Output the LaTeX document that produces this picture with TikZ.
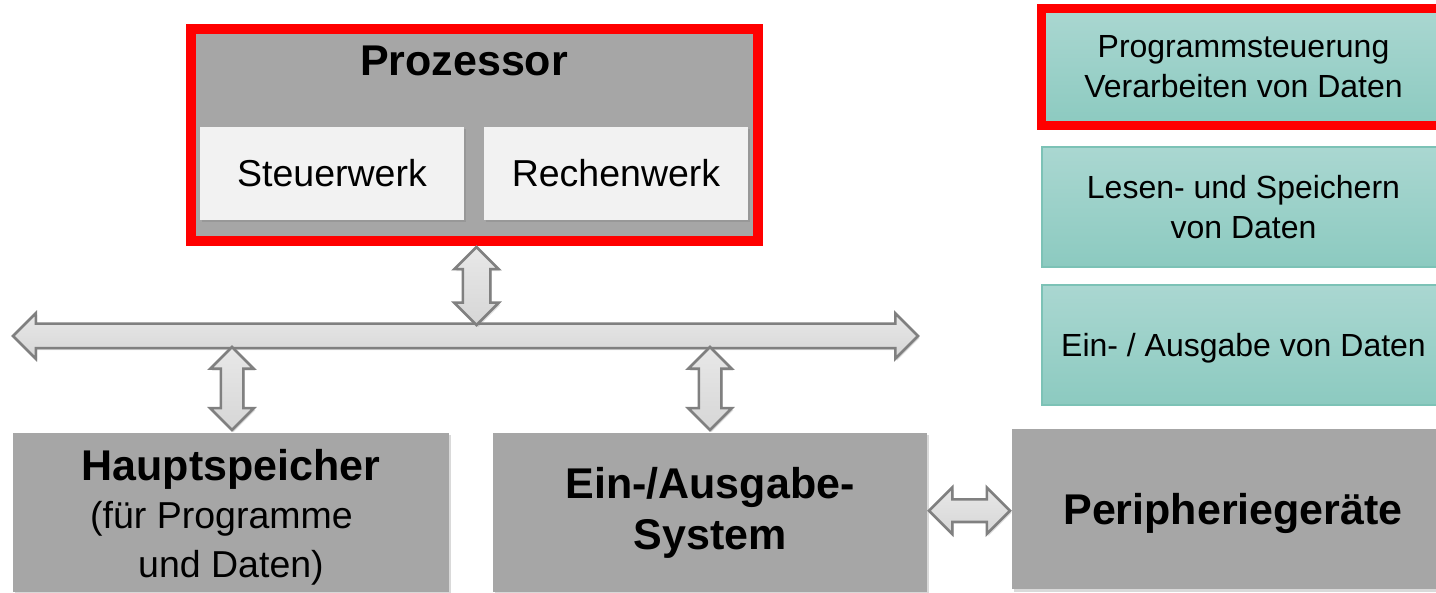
\documentclass[tikz,border=0pt]{standalone}
\usepackage{fontspec}
\setmainfont{Liberation Sans}
\usetikzlibrary{
  arrows.meta,
  calc,
  positioning,
  shapes.arrows,
  shadows,
}
\definecolor{blockgray}{HTML}{A6A6A6}
\definecolor{werkgray}{HTML}{F2F2F2}
\definecolor{tealtop}{HTML}{AAD7D1}
\definecolor{tealbot}{HTML}{8CCAC0}
\definecolor{tealline}{HTML}{7CC2B6}
\definecolor{busline}{HTML}{808080}
\tikzset{
  x=1pt,
  y=-1pt,
  block/.style={
    fill=blockgray, inner sep=0pt, outer sep=0pt, align=center,
    font=\bfseries\fontsize{43}{51}\selectfont,
    drop shadow={opacity=.3, shadow xshift=2pt, shadow yshift=-2.5pt},
  },
  werk/.style={
    fill=werkgray, minimum width=264pt, minimum height=93pt,
    inner sep=0pt, outer sep=0pt, font=\fontsize{37.5}{45}\selectfont,
    drop shadow={opacity=.35, shadow xshift=2pt, shadow yshift=-2.5pt},
  },
  aufgabe/.style={
    top color=tealtop, bottom color=tealbot, draw=tealline, line width=1.5pt,
    minimum width=403pt, minimum height=120pt, inner sep=0pt, outer sep=0pt,
    align=center, font=\fontsize{32}{40}\selectfont,
  },
  rahmen/.style={draw=red, line width=10pt},
  titel/.style={font=\bfseries\fontsize{43}{48}\selectfont, inner sep=0pt},
  busarrow/.style={
    double arrow, draw=busline, line width=2.5pt,
    top color=gray!18, bottom color=gray!32, outer sep=0pt,
    drop shadow={opacity=.25, shadow xshift=1.5pt, shadow yshift=-2pt},
  },
}

\begin{document}
\begin{tikzpicture}
  \clip (0,0) rectangle (1436,593);
  % Prozessor
  \node[block, rahmen, minimum width=567pt, minimum height=212pt](Proz) at (474.5,135){};
  \node[titel, anchor=base](ProzT) at ($(Proz.north)+(-10.5,47)$){Prozessor};
  \node[werk](SW) at (332,173.5){Steuerwerk};
  \node[werk, right=20pt of SW](RW){Rechenwerk};
  % Bus
  \node[busarrow, inner sep=11pt, double arrow head extend=10.5pt,
    minimum height=905pt](Bus) at (465.5,336){};
  % untere Bloecke
  \node[block, minimum width=436pt, minimum height=159pt,
    font=\bfseries\fontsize{43}{48.5}\selectfont](HS) at (231,512.5)
    {\rule{0pt}{40pt}Hauptspeicher\\
     {\mdseries\fontsize{37.5}{48.5}\selectfont\mbox{(f\"ur Programme\hspace{19pt}}}\\
     {\mdseries\fontsize{37.5}{48.5}\selectfont und Daten)}};
  \node[block, minimum width=434pt, minimum height=159pt, right=44pt of HS](EA)
    {Ein-/Ausgabe-\\System};
  \node[block, minimum width=442pt, minimum height=160pt, text depth=0pt](Peri)
    at (1233,509){Peripherieger\"ate};
  % Verbindungen
  \node[busarrow, rotate=90, inner sep=12.5pt, double arrow head extend=8.5pt,
    minimum height=78pt](ProzBus) at ($(Proz.south)+(2,45)$){};
  \node[busarrow, rotate=90, inner sep=10pt, double arrow head extend=10.5pt,
    minimum height=83pt](HSBus) at ($(HS.north)+(1,-44.5)$){};
  \node[busarrow, rotate=90, inner sep=10pt, double arrow head extend=10.5pt,
    minimum height=83pt](EABus) at ($(EA.north)+(0,-44.5)$){};
  \node[busarrow, inner sep=10pt, double arrow head extend=12pt,
    minimum height=81pt](EAPeri) at ($(EA.east)!.5!(Peri.west)$){};
  % Aufgaben
  \node[aufgabe, rahmen, line width=9pt, minimum width=404pt, minimum height=117pt](Ctrl)
    at (1243.5,67){Programmsteuerung\\Verarbeiten von Daten};
  \node[aufgabe, below=21.5pt of Ctrl](Mem){Lesen- und Speichern\\von Daten};
  \node[aufgabe, below=18pt of Mem, text depth=0pt](IO){Ein- / Ausgabe von Daten};
\end{tikzpicture}
\end{document}
